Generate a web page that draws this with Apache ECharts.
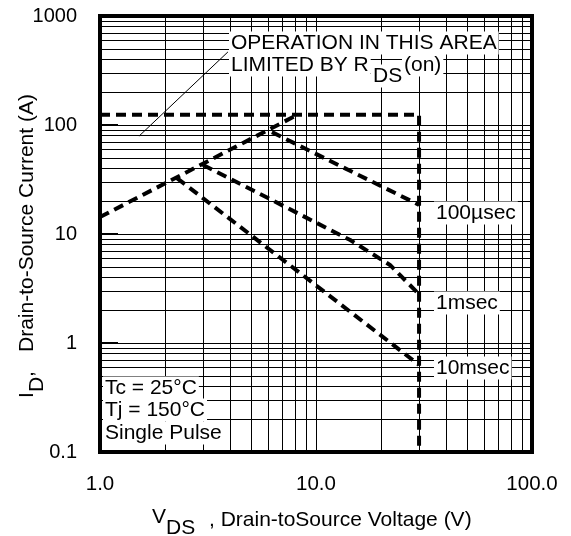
<!DOCTYPE html>
<html>
<head>
<meta charset="utf-8">
<script src="https://cdn.jsdelivr.net/npm/echarts@6/dist/echarts.min.js"></script>
<style>
html,body{margin:0;padding:0;background:#fff;}
#soa{width:571px;height:536px;}
</style>
</head>
<body>
<div id="soa"></div>
<script>
// tick labels
var xTickLabels = ['1.0', '10.0', '100.0'];
var yTickLabels = ['0.1', '1', '10', '100', '1000'];
// minor grid values (log decades)
var xMinor = [2, 3, 4, 5, 6, 7, 8, 9, 20, 30, 40, 50, 60, 70, 80, 90];
var yMinor = [0.2, 0.3, 0.4, 0.5, 0.6, 0.7, 0.8, 0.9, 2, 3, 4, 5, 6, 7, 8, 9,
	20, 30, 40, 50, 60, 70, 80, 90, 200, 300, 400, 500, 600, 700, 800, 900];

// RDS(on) limit
var rdsV = [1.0, 8.2];
var rdsI = [14.3, 124];
// current / voltage limit (DC boundary)
var limV = [1.0, 30, 30];
var limI = [124, 124, 0.1];
// pulse curves
var us100V = [6.25, 30];
var us100I = [86, 18.5];
var ms1V = [3.0, 14.4, 22, 30];
var ms1I = [43, 8.8, 5.2, 2.8];
var ms10V = [2.27, 30];
var ms10I = [32.6, 0.63];

function pairs(xs, ys) {
	return xs.map(function(x, i) { return [x, ys[i]]; });
}

var FONT = '"Liberation Sans", Arial, Helvetica, sans-serif';
var dash = {color: '#000', width: 4, type: [10, 6]};

var chart = echarts.init(document.getElementById('soa'), null, {renderer: 'canvas'});

function txt(text, x, y, size, bg) {
	return {
		type: 'text', x: x, y: y, z: 20,
		style: {
			text: text, fill: '#000', fontSize: size || 21, fontFamily: FONT,
			verticalAlign: 'middle', align: 'left',
			backgroundColor: bg === false ? null : '#fff', padding: bg === false ? 0 : [1, 2]
		}
	};
}

var option = {
	backgroundColor: '#fff',
	animation: false,
	grid: {
		left: 100, right: 39, top: 16, bottom: 84,
		show: true, borderColor: '#000', borderWidth: 4
	},
	xAxis: {
		type: 'log', logBase: 10, min: 1, max: 100,
		axisLine: {show: false},
		axisTick: {show: false},
		axisLabel: {
			margin: 22, color: '#000', fontSize: 20.5, fontFamily: FONT,
			formatter: function(v) { return xTickLabels[Math.round(Math.log10(v))]; }
		},
		splitLine: {show: true, lineStyle: {color: '#000', width: 1}}
	},
	yAxis: {
		type: 'log', logBase: 10, min: 0.1, max: 1000,
		axisLine: {show: false},
		axisTick: {show: true, inside: true, length: 18, lineStyle: {color: '#000', width: 2}},
		axisLabel: {
			margin: 23, color: '#000', fontSize: 20, fontFamily: FONT, padding: [5, 0, 0, 0],
			formatter: function(v) { return yTickLabels[Math.round(Math.log10(v)) + 1]; }
		},
		splitLine: {show: true, lineStyle: {color: '#000', width: 1}}
	},
	series: [
		{
			name: 'grid', type: 'line', data: [], silent: true, z: 1,
			markLine: {
				silent: true, symbol: 'none', label: {show: false},
				lineStyle: {color: '#000', width: 1, type: 'solid'},
				data: xMinor.map(function(v) { return {xAxis: v}; })
					.concat(yMinor.map(function(v) { return {yAxis: v}; }))
			}
		},
		{
			name: 'RDS(on)', type: 'line', data: pairs(rdsV, rdsI), symbol: 'none', z: 5,
			lineStyle: dash,
			markLine: {
				silent: true, symbol: 'none', label: {show: false},
				lineStyle: {color: '#000', width: 1, type: 'solid'},
				data: [[{coord: [1.515, 79]}, {coord: [3.91, 468]}]]
			}
		},
		{name: 'DC', type: 'line', data: pairs(limV, limI), symbol: 'none', z: 5, lineStyle: dash},
		{name: '100µsec', type: 'line', data: pairs(us100V, us100I), symbol: 'none', z: 5, lineStyle: dash},
		{name: '1msec', type: 'line', data: pairs(ms1V, ms1I), symbol: 'none', z: 5, lineStyle: dash},
		{name: '10msec', type: 'line', data: pairs(ms10V, ms10I), symbol: 'none', z: 5, lineStyle: dash}
	],
	graphic: [
		txt('OPERATION IN THIS AREA', 229, 43),
		txt('LIMITED BY R', 229, 65),
		txt('DS', 371, 76),
		txt('(on)', 402, 65),
		txt('Tc = 25°C', 103, 388),
		txt('Tj = 150°C', 103, 410),
		txt('Single Pulse', 103, 433),
		txt('100µsec', 434, 213),
		txt('1msec', 434, 303),
		txt('10msec', 434, 368),
		// x axis title
		txt('V', 152, 517, 21, false),
		txt('DS', 166, 528, 21, false),
		txt(', Drain-toSource Voltage (V)', 209, 520, 21, false),
		// y axis title (rotated)
		{
			type: 'group', x: 27, y: 398, rotation: Math.PI / 2,
			children: [
				txt('I', 0, 0, 21, false),
				txt('D', 6, 10, 21, false),
				txt(',', 21, 0, 21, false),
				txt('Drain-to-Source Current (A)', 46, 0, 21, false)
			]
		}
	]
};

chart.setOption(option);

window.onresize = function() {
	chart.resize();
};
</script>
</body>
</html>
